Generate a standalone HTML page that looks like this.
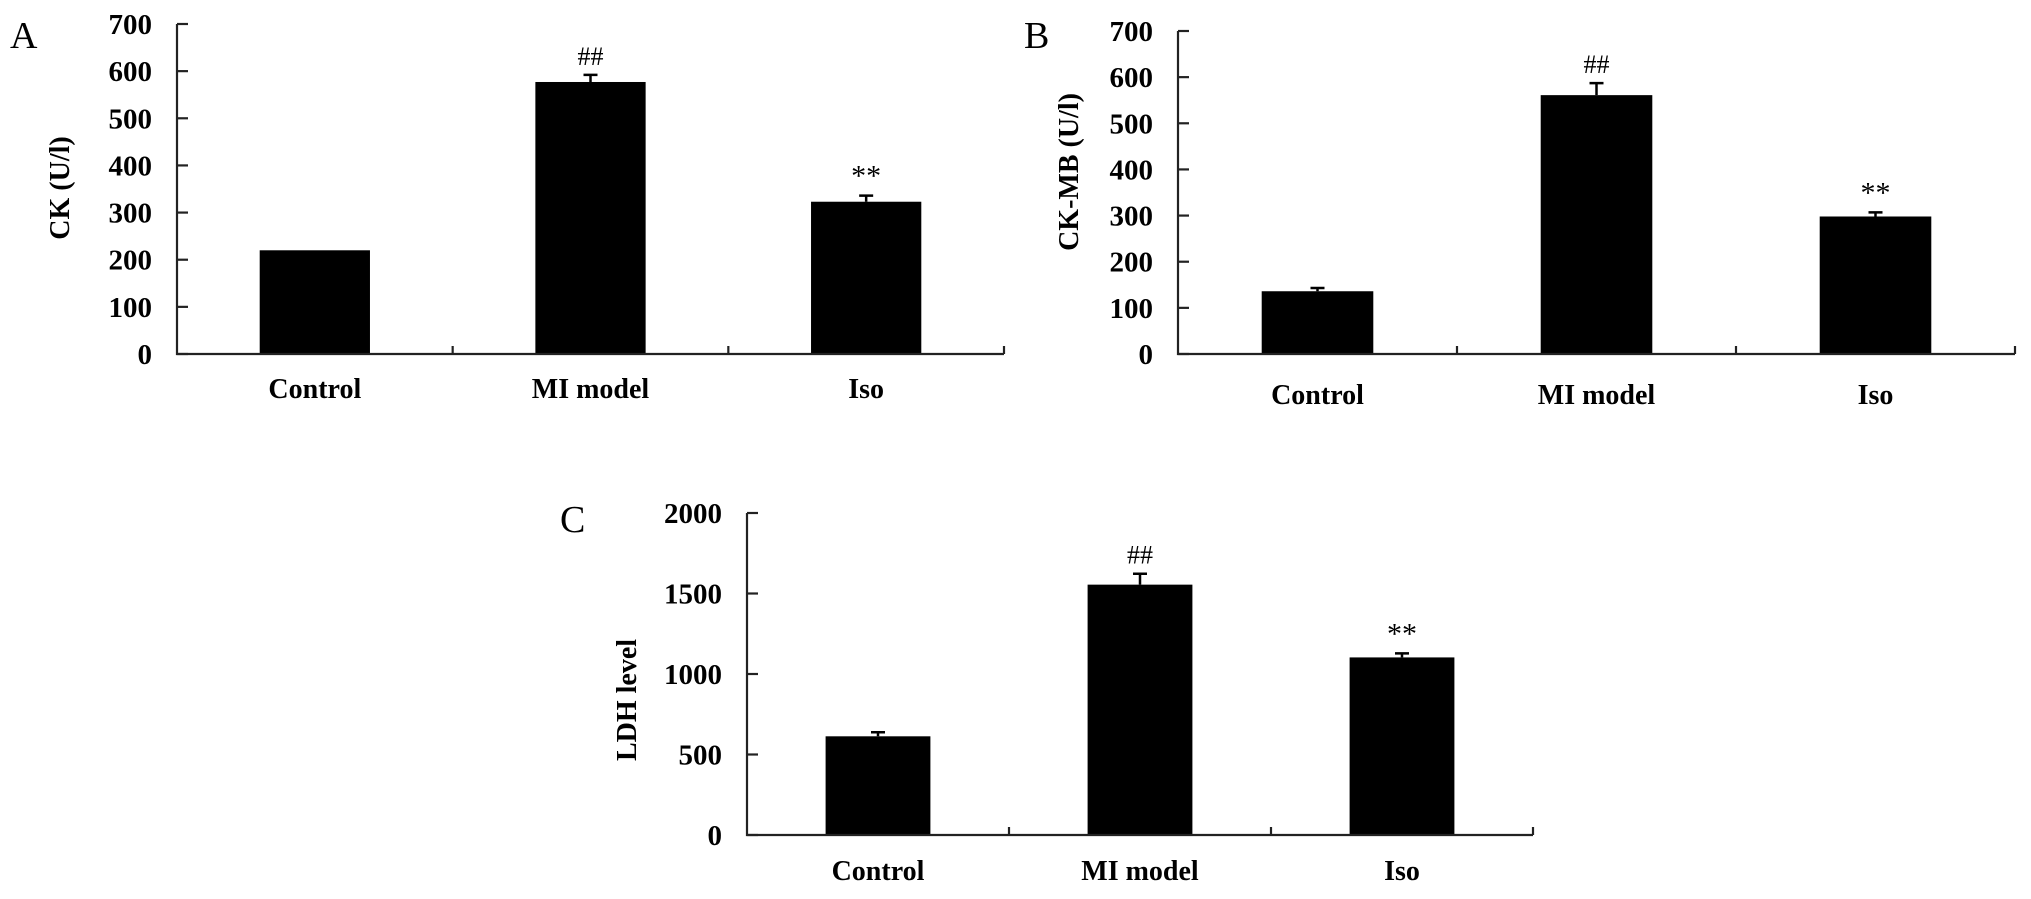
<!DOCTYPE html>
<html><head><meta charset="utf-8"><style>
html,body{margin:0;padding:0;background:#fff;}
svg{display:block;}
text{font-family:"Liberation Serif",serif;}
</style></head><body>
<svg id="fig" width="2031" height="899" viewBox="0 0 2031 899" xmlns="http://www.w3.org/2000/svg"></svg>
<script>
// Shared categories
var categories = ["Control", "MI model", "Iso"];
// Panel A: CK (U/l)
var ckValues = [220, 577, 323];
var ckErrors = [0, 15, 13];
var ckTicks = [0, 100, 200, 300, 400, 500, 600, 700];
var ckMarks = ["", "##", "**"];
// Panel B: CK-MB (U/l)
var ckmbValues = [136, 561, 298];
var ckmbErrors = [7, 26, 9];
var ckmbTicks = [0, 100, 200, 300, 400, 500, 600, 700];
var ckmbMarks = ["", "##", "**"];
// Panel C: LDH level
var ldhValues = [613, 1555, 1103];
var ldhErrors = [25, 68, 25];
var ldhTicks = [0, 500, 1000, 1500, 2000];
var ldhMarks = ["", "##", "**"];

var NS = "http://www.w3.org/2000/svg";
var svg = document.getElementById("fig");
function mk(tag, attrs, parent) {
  var e = document.createElementNS(NS, tag);
  for (var k in attrs) e.setAttribute(k, attrs[k]);
  (parent || svg).appendChild(e);
  return e;
}

function panel(cfg, values, errors, ticks, marks) {
  var g = mk("g", {});
  
  
  var x0 = cfg.x0, x1 = cfg.x1, y0 = cfg.y0, yTop = cfg.yTop;
  var vmax = ticks[ticks.length - 1];
  function yS(v) { return y0 - (v / vmax) * (y0 - yTop); }
  var cw = (x1 - x0) / categories.length;
  function xC(i) { return x0 + cw * (i + 0.5); }
  var bw = cw * 0.4;

  // bars
  for (var i = 0; i < values.length; i++) {
    var r = mk("rect", {x: xC(i) - bw / 2, y: yS(values[i]), width: bw, height: y0 - yS(values[i]), fill: "#000"}, g);
    
    
    if (errors[i] > 0) {
      var ye = yS(values[i] + errors[i]);
      var eb = mk("path", {d: "M" + xC(i) + " " + yS(values[i]) + "V" + ye + "M" + (xC(i) - 7) + " " + ye + "H" + (xC(i) + 7), stroke: "#000", "stroke-width": 2.5, fill: "none"}, g);
      
      
    }
    if (marks[i]) {
      var top = yS(values[i] + errors[i]);
      var t = mk("text", {x: xC(i), y: top - 10, "text-anchor": "middle", "font-size": marks[i] === "**" ? 30 : 26, fill: "#000"}, g);
      t.textContent = marks[i];
      
      
    }
    var xl = mk("text", {x: xC(i), y: cfg.labelY, "text-anchor": "middle", "font-size": 28, "font-weight": "bold", fill: "#000"}, g);
    xl.textContent = categories[i];
    
    
  }
  // axes
  var ax = mk("path", {d: "M" + x0 + " " + yTop + "V" + y0 + "H" + x1, stroke: "#222", "stroke-width": 2.2, fill: "none"}, g);
  
  
  for (var j = 1; j <= categories.length; j++) {
    var xt = x0 + cw * j;
    var tk = mk("line", {x1: xt, x2: xt, y1: y0, y2: y0 - 8, stroke: "#222", "stroke-width": 2.2}, g);
    
    
  }
  for (var k = 0; k < ticks.length; k++) {
    var yy = yS(ticks[k]);
    var yt = mk("line", {x1: x0, x2: x0 + 11, y1: yy, y2: yy, stroke: "#222", "stroke-width": 2.2}, g);
    
    
    var tl = mk("text", {x: x0 - 25, y: yy + 10, "text-anchor": "end", "font-size": 29, "font-weight": "bold", fill: "#000"}, g);
    tl.textContent = ticks[k];
    
    
  }
  var yl = mk("text", {x: 0, y: 0, "text-anchor": "middle", "font-size": 28, "font-weight": "bold", fill: "#000", transform: "translate(" + cfg.ylx + "," + cfg.yly + ") rotate(-90)"}, g);
  yl.textContent = cfg.ylabel;
  
  
  var pl = mk("text", {x: cfg.lx, y: cfg.ly, "font-size": 38, fill: "#000"}, g);
  pl.textContent = cfg.letter;
  
  
}

panel({id: "panel-a", x0: 177, x1: 1004, y0: 354, yTop: 24, labelY: 398, ylabel: "CK (U/l)", ylx: 69, yly: 188, letter: "A", lx: 10, ly: 48},
  ckValues, ckErrors, ckTicks, ckMarks);
panel({id: "panel-b", x0: 1178, x1: 2015, y0: 354, yTop: 31, labelY: 404, ylabel: "CK-MB (U/l)", ylx: 1078, yly: 172, letter: "B", lx: 1024, ly: 48},
  ckmbValues, ckmbErrors, ckmbTicks, ckmbMarks);
panel({id: "panel-c", x0: 747, x1: 1533, y0: 835, yTop: 513, labelY: 880, ylabel: "LDH level", ylx: 636, yly: 700, letter: "C", lx: 560, ly: 532},
  ldhValues, ldhErrors, ldhTicks, ldhMarks);
</script>
</body></html>
